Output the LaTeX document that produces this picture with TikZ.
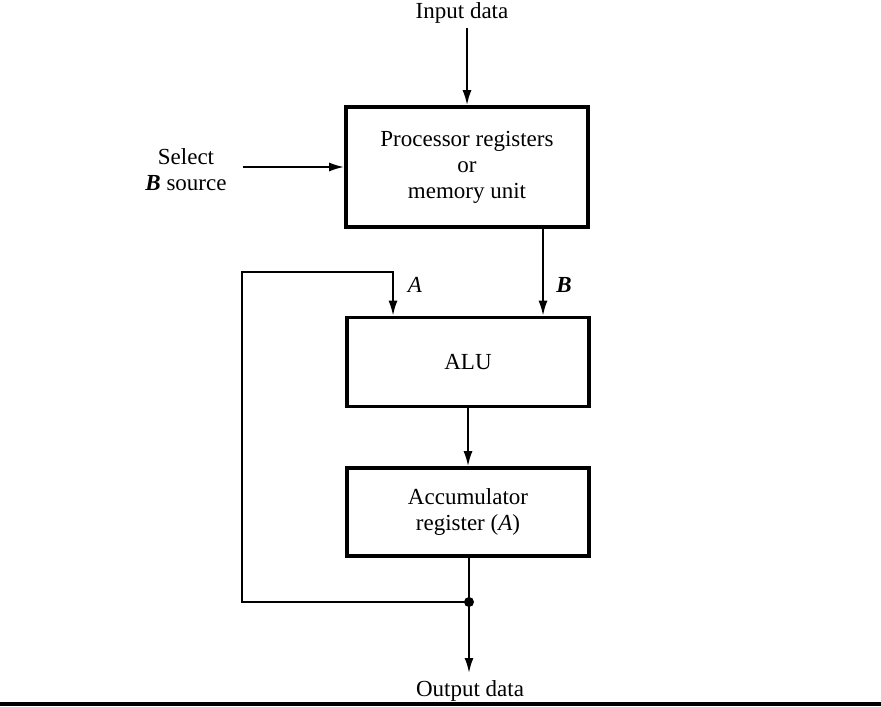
\documentclass[tikz,border=0pt]{standalone}
\usepackage{fontspec}
\setmainfont{Liberation Serif}
\usetikzlibrary{positioning,calc}
\usetikzlibrary{arrows.meta}

\begin{document}
\begin{tikzpicture}[x=0.5pt,y=-0.5pt,
        unitbox/.style={draw, line width=1.8pt, minimum width=121pt, align=center, font=\fontsize{11.5}{13}\selectfont},
        lbl/.style={align=center, font=\fontsize{11.5}{13}\selectfont, inner sep=0pt},
        arr/.style={-{Latex[length=7.5pt,width=4.5pt]}, line width=1pt},
        wire/.style={line width=1pt}]
        \useasboundingbox (0,0) rectangle (881,706);

        % the three blocks
        \node[unitbox, minimum height=60pt] (proc) at (467,167) {Processor registers\\or\\memory unit};
        \node[unitbox, minimum height=44.5pt] (alu) at (468,362) {ALU};
        \node[unitbox, minimum height=44pt] (acc) at (468,512) {Accumulator\\register (\textit{A})};

        % outside labels
        \node[lbl] (in) at (462,13) {Input data};
        \node[lbl] (sel) at (186,170) {Select\\\textit{\textbf{B}} source};
        \node[lbl] (out) at (470,691) {Output data};
        \node[lbl] (la) at (415,285) {\textit{A}};
        \node[lbl] (lb) at (564,285) {\textit{\textbf{B}}};

        \coordinate (intop) at (467,28);
        \coordinate (selend) at (243,167);
        \coordinate (bx) at (543,0);
        \coordinate (ax) at (393,272);
        \coordinate (tap) at (469,602);
        \coordinate (outend) at (469,673);
        \coordinate (lft) at (242,0);

        % connectors
        \draw[arr] (intop) -- (proc.north);
        \draw[arr] (selend) -- (proc.west);
        \draw[arr] (proc.south -| bx) -- (alu.north -| bx);
        \draw[arr] (alu) -- (acc);
        \draw[wire] (acc.south -| tap) -- (tap);
        \draw[arr] (tap) -- (outend);
        \draw[arr] (tap) -- (tap -| lft) -- (ax -| lft) -- (ax) -- (alu.north -| ax);
        \fill (tap) circle (2.5pt);

        % rule at the bottom
        \fill (0,702) rectangle (881,706);
      \end{tikzpicture}
\end{document}
